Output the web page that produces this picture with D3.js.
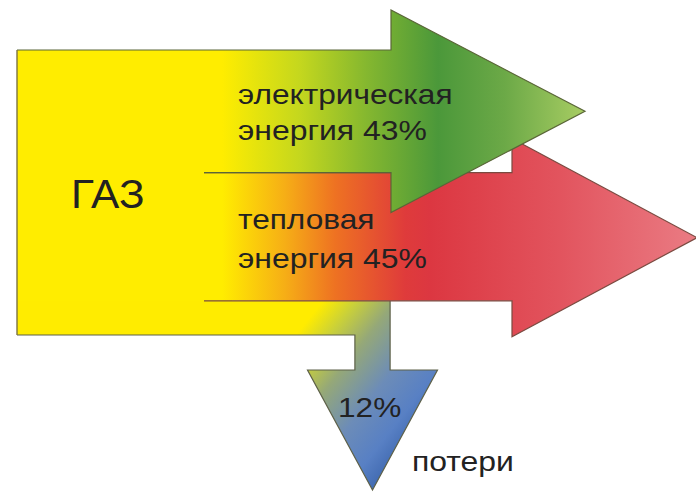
<!DOCTYPE html>
<html><head><meta charset="utf-8">
<script src="https://cdn.jsdelivr.net/npm/d3@7"></script>
<style>
html,body{margin:0;padding:0;background:#fff;}
svg{display:block;}
text{font-family:"Liberation Sans",Arial,sans-serif;fill:#222;}
</style></head>
<body>
<svg id="chart" width="696" height="493"></svg>
<script>
// ---- data ----
const sourceName = "ГАЗ";
const sourceTotal = 100;
const flowKeys = ["electric", "heat", "loss"];
const flowLabelLine1 = ["электрическая", "тепловая", "12%"];
const flowLabelLine2 = ["энергия 43%", "энергия 45%", "потери"];
const flowValues = [43, 45, 12];

// ---- layout ----
const svg = d3.select("#chart");
const y = d3.scaleLinear().domain([0, sourceTotal]).range([50, 335]);

const cum = [];
let acc = 0;
flowValues.forEach(v => { cum.push([acc, acc + v]); acc += v; });

const left = 17, divX = 204;
const defs = svg.append("defs");
function grad(id, x1, y1, x2, y2, stops) {
  const g = defs.append("linearGradient").attr("id", id).attr("gradientUnits", "userSpaceOnUse")
    .attr("x1", x1).attr("y1", y1).attr("x2", x2).attr("y2", y2);
  stops.forEach(s => g.append("stop").attr("offset", s[0]).attr("stop-color", s[1]));
}
const gx = v => v / 696;
grad("gGreen", 0, 0, 696, 0, [[gx(222), "#ffed00"], [gx(300), "#c4d71e"], [gx(365), "#86b82f"], [gx(438), "#4b983a"], [gx(505), "#6ca947"], [gx(585), "#a8cd63"]]);
grad("gRed", 0, 0, 696, 0, [[gx(222), "#ffed00"], [gx(285), "#f6ae16"], [gx(335), "#ee7222"], [gx(405), "#df3b3b"], [gx(430), "#dc3741"], [gx(560), "#e2545e"], [gx(697), "#ea7b83"]]);
grad("gLoss", 300, 330, 440, 440, [[0, "#ffec00"], [0.15, "#c9d03a"], [0.32, "#95a878"], [0.55, "#6c8cb8"], [0.75, "#5880c4"], [1, "#2c56a0"]]);

const line = d3.line();

// electric arrow
const e0 = y(cum[0][0]), e1 = y(cum[0][1]);
const eMid = (e0 + e1) / 2, eHalf = (e1 - e0) / 2 + 40;
const eHeadX = 391, eTipX = 585;
const greenPoly = [[left, e0], [eHeadX, e0], [eHeadX, eMid - eHalf], [eTipX, eMid], [eHeadX, eMid + eHalf], [eHeadX, e1], [left, e1]];
const greenStroke = [[left, e0], [eHeadX, e0], [eHeadX, eMid - eHalf], [eTipX, eMid], [eHeadX, eMid + eHalf], [eHeadX, e1], [divX, e1]];

// heat arrow
const h0 = y(cum[1][0]), h1 = y(cum[1][1]);
const hMid = (h0 + h1) / 2 + 1, hHalf = (h1 - h0) / 2 + 35;
const hHeadX = 512, hTipX = 697;
const redPoly = [[left, h0], [hHeadX, h0], [hHeadX, hMid - hHalf], [hTipX, hMid], [hHeadX, hMid + hHalf], [hHeadX, h1], [left, h1]];
const redStroke = [[divX, h0], [hHeadX, h0], [hHeadX, hMid - hHalf], [hTipX, hMid], [hHeadX, hMid + hHalf], [hHeadX, h1], [divX, h1]];

// loss arrow
const l0 = y(cum[2][0]), l1 = y(cum[2][1]);
const lw = l1 - l0;
const lCx = 372.5, lx0 = lCx - lw / 2 - 0.5, lx1 = lCx + lw / 2 + 0.5;
const lHeadY = 370, lTipY = 490, lHalf = 65;
const lossPoly = [[left, l0], [lx1, l0], [lx1, lHeadY], [lCx + lHalf, lHeadY], [lCx, lTipY], [lCx - lHalf, lHeadY], [lx0, lHeadY], [lx0, l1], [left, l1]];
const lossStroke = [[left, l1], [lx0, l1], [lx0, lHeadY], [lCx - lHalf, lHeadY], [lCx, lTipY], [lCx + lHalf, lHeadY], [lx1, lHeadY], [lx1, l0]];

// yellow underlay to hide seams between flows
svg.append("rect").attr("x", left).attr("y", y(0)).attr("width", 215).attr("height", y(sourceTotal) - y(0)).attr("fill", "#ffed00");

svg.append("path").attr("d", line(lossPoly) + "Z").attr("fill", "url(#gLoss)");
svg.append("path").attr("d", line(lossStroke)).attr("fill", "none").attr("stroke", "#5d6048").attr("stroke-width", 1.2);
svg.append("path").attr("d", line(redPoly) + "Z").attr("fill", "url(#gRed)");
svg.append("path").attr("d", line(redStroke)).attr("fill", "none").attr("stroke", "#7a4a40").attr("stroke-width", 1.2);
svg.append("path").attr("d", line(greenPoly) + "Z").attr("fill", "url(#gGreen)");
svg.append("path").attr("d", line(greenStroke)).attr("fill", "none").attr("stroke", "#5a6638").attr("stroke-width", 1.2);
svg.append("path").attr("d", line([[left, e0], [left, l1]])).attr("fill", "none").attr("stroke", "#7d7440").attr("stroke-width", 1.4);

// labels
function label(tx, ty, size, sx, str) {
  svg.append("text").attr("transform", `translate(${tx},${ty}) scale(${sx},1)`)
    .attr("font-size", size).text(str);
}
label(71, 208, 40, 1.06, sourceName);
const labelPos = [
  [238, 104, 238, 140],
  [238, 229, 238, 268],
  [338, 417, 412, 471]
];
flowKeys.forEach((k, i) => {
  const p = labelPos[i];
  label(p[0], p[1], 28, 1.13, flowLabelLine1[i]);
  label(p[2], p[3], 28, 1.14, flowLabelLine2[i]);
});
</script>
</body></html>
